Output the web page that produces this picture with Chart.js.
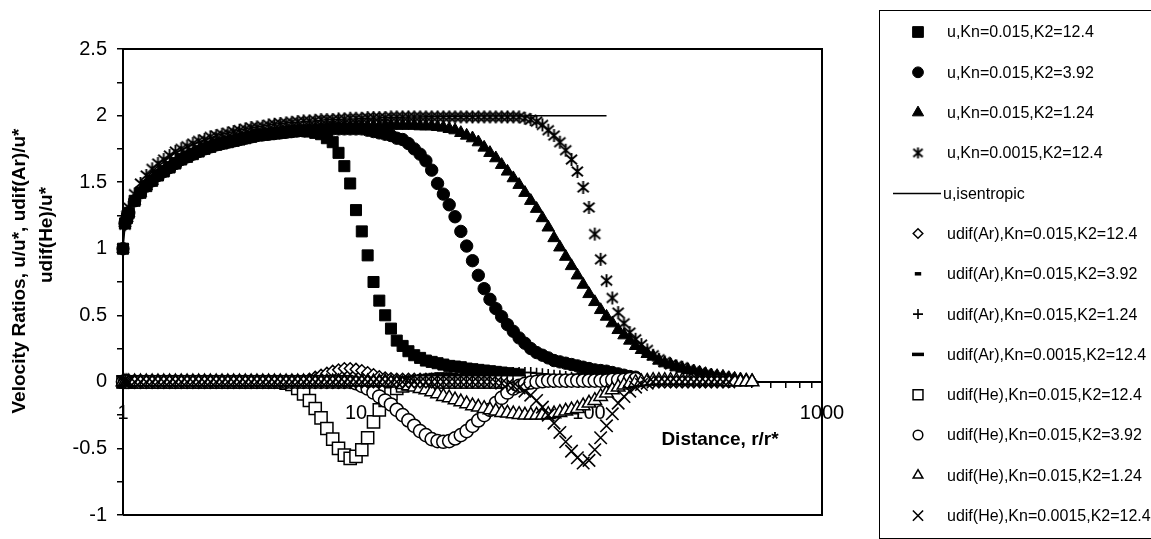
<!DOCTYPE html>
<html>
<head>
<meta charset="utf-8">
<script src="https://cdn.jsdelivr.net/npm/chart.js@4.4.1/dist/chart.umd.min.js"></script>
<style>
  html, body { margin: 0; padding: 0; background: #fff; }
  canvas { display: block; }
</style>
</head>
<body>
<canvas id="c" width="1151" height="539"></canvas>
<script>
// Radial distance r/r* for every sample (shared by all series)
const rGrid = [
  1, 1.02, 1.04, 1.059, 1.122, 1.189, 1.259, 1.334, 1.413, 1.496,
  1.585, 1.679, 1.778, 1.884, 1.995, 2.113, 2.239, 2.371, 2.512, 2.661,
  2.818, 2.985, 3.162, 3.35, 3.548, 3.758, 3.981, 4.217, 4.467, 4.732,
  5.012, 5.309, 5.623, 5.957, 6.31, 6.683, 7.079, 7.499, 7.943, 8.414,
  8.913, 9.441, 10, 10.59, 11.22, 11.89, 12.59, 13.34, 14.13, 14.96,
  15.85, 16.79, 17.78, 18.84, 19.95, 21.13, 22.39, 23.71, 25.12, 26.61,
  28.18, 29.85, 31.62, 33.5, 35.48, 37.58, 39.81, 42.17, 44.67, 47.32,
  50.12, 53.09, 56.23, 59.57, 63.1, 66.83, 70.79, 74.99, 79.43, 84.14,
  89.13, 94.41, 100, 105.9, 112.2, 118.9, 125.9, 133.4, 141.3, 149.6,
  158.5, 167.9, 177.8, 188.4, 199.5, 211.3, 223.9, 237.1, 251.2, 266.1,
  281.8, 298.5, 316.2, 335, 354.8, 375.8, 398.1, 421.7, 446.7, 473.2,
  501.2
];

// u/u*, Kn=0.015, K2=12.4
const uKn015K124 = [
  1.00, 1.19, 1.23, 1.27, 1.36, 1.42, 1.47, 1.51, 1.55, 1.58,
  1.61, 1.64, 1.67, 1.69, 1.71, 1.73, 1.75, 1.765, 1.78, 1.79,
  1.80, 1.81, 1.82, 1.83, 1.84, 1.85, 1.855, 1.86, 1.865, 1.87,
  1.875, 1.88, 1.885, 1.885, 1.88, 1.87, 1.86, 1.83, 1.80, 1.72,
  1.62, 1.49, 1.29, 1.13, 0.95, 0.75, 0.61, 0.50, 0.40, 0.31,
  0.27, 0.23, 0.20, 0.18, 0.16, 0.15, 0.14, 0.13, 0.12, 0.115,
  0.11, 0.10, 0.095, 0.09, 0.085, 0.08, 0.075, 0.07, 0.065, 0.06,
  0.055
];
// u/u*, Kn=0.015, K2=3.92
const uKn015K392 = [
  1.00, 1.19, 1.23, 1.27, 1.36, 1.42, 1.47, 1.51, 1.55, 1.58,
  1.61, 1.64, 1.67, 1.69, 1.71, 1.73, 1.75, 1.765, 1.78, 1.79,
  1.80, 1.81, 1.82, 1.83, 1.84, 1.85, 1.855, 1.86, 1.865, 1.87,
  1.875, 1.88, 1.885, 1.885, 1.89, 1.89, 1.895, 1.90, 1.90, 1.90,
  1.90, 1.90, 1.90, 1.90, 1.89, 1.88, 1.87, 1.86, 1.85, 1.83,
  1.82, 1.79, 1.75, 1.71, 1.66, 1.59, 1.49, 1.41, 1.33, 1.24,
  1.13, 1.02, 0.91, 0.80, 0.70, 0.62, 0.55, 0.49, 0.43, 0.38,
  0.33, 0.29, 0.25, 0.22, 0.20, 0.18, 0.16, 0.15, 0.14, 0.13,
  0.12, 0.11, 0.10, 0.09, 0.085, 0.08, 0.07, 0.06, 0.05, 0.04,
  0.035
];
// u/u*, Kn=0.015, K2=1.24
const uKn015K124b = [
  1.00, 1.19, 1.23, 1.27, 1.36, 1.42, 1.47, 1.51, 1.55, 1.58,
  1.61, 1.64, 1.67, 1.69, 1.71, 1.73, 1.75, 1.765, 1.78, 1.79,
  1.80, 1.81, 1.82, 1.83, 1.84, 1.85, 1.855, 1.86, 1.865, 1.87,
  1.875, 1.88, 1.885, 1.885, 1.89, 1.895, 1.90, 1.905, 1.91, 1.91,
  1.915, 1.915, 1.92, 1.92, 1.92, 1.92, 1.92, 1.925, 1.925, 1.925,
  1.925, 1.925, 1.925, 1.92, 1.92, 1.92, 1.915, 1.91, 1.90, 1.89,
  1.87, 1.85, 1.83, 1.80, 1.76, 1.72, 1.68, 1.63, 1.58, 1.53,
  1.48, 1.42, 1.36, 1.30, 1.23, 1.16, 1.08, 1.01, 0.94, 0.87,
  0.80, 0.73, 0.66, 0.60, 0.54, 0.49, 0.44, 0.39, 0.35, 0.31,
  0.27, 0.24, 0.21, 0.19, 0.16, 0.14, 0.13, 0.11, 0.10, 0.09,
  0.08, 0.07, 0.06, 0.05, 0.045, 0.04, 0.03, 0.025, 0.02, 0.015,
  0.01
];
// u/u*, Kn=0.0015, K2=12.4
const uKn0015K124 = [
  1.00, 1.18, 1.25, 1.31, 1.41, 1.49, 1.55, 1.60, 1.64, 1.67,
  1.70, 1.73, 1.75, 1.77, 1.79, 1.81, 1.82, 1.84, 1.85, 1.86,
  1.87, 1.88, 1.89, 1.90, 1.91, 1.915, 1.92, 1.93, 1.935, 1.94,
  1.945, 1.95, 1.955, 1.96, 1.96, 1.965, 1.97, 1.97, 1.97, 1.975,
  1.975, 1.98, 1.98, 1.98, 1.985, 1.985, 1.985, 1.985, 1.99, 1.99,
  1.99, 1.99, 1.99, 1.99, 1.99, 1.99, 1.99, 1.99, 1.99, 1.99,
  1.99, 1.99, 1.99, 1.99, 1.99, 1.99, 1.99, 1.99, 1.99, 1.99,
  1.99, 1.98, 1.97, 1.955, 1.93, 1.89, 1.85, 1.80, 1.74, 1.67,
  1.58, 1.46, 1.31, 1.11, 0.92, 0.76, 0.63, 0.52, 0.44, 0.37,
  0.32, 0.28, 0.24, 0.20, 0.17, 0.15, 0.13, 0.12, 0.11, 0.09,
  0.08, 0.07, 0.06, 0.05, 0.04, 0.035, 0.03
];
// u/u*, isentropic expansion
const uIsentropic = [
  1.00, 1.17, 1.235, 1.28, 1.39, 1.47, 1.53, 1.58, 1.62, 1.65,
  1.69, 1.72, 1.74, 1.765, 1.785, 1.80, 1.82, 1.83, 1.85, 1.86,
  1.87, 1.88, 1.89, 1.90, 1.91, 1.915, 1.92, 1.93, 1.935, 1.94,
  1.945, 1.95, 1.95, 1.955, 1.96, 1.96, 1.965, 1.97, 1.97, 1.97,
  1.975, 1.975, 1.977, 1.98, 1.98, 1.982, 1.983, 1.985, 1.986, 1.987,
  1.988, 1.989, 1.99, 1.99, 1.991, 1.992, 1.993, 1.993, 1.994, 1.994,
  1.995, 1.995, 1.995, 1.996, 1.996, 1.996, 1.996, 1.997, 1.997, 1.997,
  1.997, 1.997, 1.998, 1.998, 1.998, 1.998, 1.998, 1.998, 1.998, 1.999,
  1.999, 1.999, 1.999, 1.999, 1.999, 1.999
];
// udif(Ar)/u*, Kn=0.015, K2=12.4
const arKn015K124 = [
  0, 0, 0, 0, 0, 0, 0, 0, 0, 0,
  0, 0, 0, 0, 0, 0, 0, 0, 0, 0,
  0, 0, 0, 0, 0, 0, 0, 0, 0, 0,
  0, 0, 0.005, 0.01, 0.02, 0.035, 0.05, 0.065, 0.08, 0.09,
  0.10, 0.10, 0.095, 0.085, 0.07, 0.055, 0.04, 0.03, 0.025, 0.02,
  0.02, 0.02, 0.02, 0.02, 0.02, 0.02, 0.02, 0.02, 0.02, 0.02,
  0.02, 0.02, 0.02, 0.02, 0.02, 0.015, 0.015, 0.015, 0.015, 0.015,
  0.015
];
// udif(Ar)/u*, Kn=0.015, K2=3.92
const arKn015K392 = [
  0, 0, 0, 0, 0, 0, 0, 0, 0, 0,
  0, 0, 0, 0, 0, 0, 0, 0, 0, 0,
  0, 0, 0, 0, 0, 0, 0, 0, 0, 0,
  0, 0, 0, 0, 0, 0, 0, 0, 0, 0,
  0, 0, 0, 0, 0, 0, 0.005, 0.01, 0.015, 0.02,
  0.03, 0.035, 0.04, 0.045, 0.05, 0.055, 0.06, 0.06, 0.06, 0.055,
  0.05, 0.045, 0.04, 0.035, 0.03, 0.025, 0.02, 0.02, 0.015, 0.015,
  0.01, 0.01, 0.01, 0.01, 0.01, 0.01, 0.01, 0.01, 0.01, 0.01,
  0.01, 0.005, 0.005, 0.005, 0.005, 0.005, 0.005, 0.005, 0.005, 0.005,
  0.005
];
// udif(Ar)/u*, Kn=0.015, K2=1.24
const arKn015K124b = [
  0, 0, 0, 0, 0, 0, 0, 0, 0, 0,
  0, 0, 0, 0, 0, 0, 0, 0, 0, 0,
  0, 0, 0, 0, 0, 0, 0, 0, 0, 0,
  0, 0, 0, 0, 0, 0, 0, 0, 0, 0,
  0, 0, 0, 0, 0, 0, 0, 0, 0, 0,
  0, 0, 0, 0, 0, 0, 0, 0, 0.005, 0.01,
  0.015, 0.02, 0.03, 0.035, 0.04, 0.05, 0.055, 0.06, 0.065, 0.07,
  0.07, 0.07, 0.07, 0.065, 0.06, 0.055, 0.05, 0.045, 0.04, 0.035,
  0.03, 0.025, 0.02, 0.02, 0.015, 0.015, 0.01, 0.01, 0.01, 0.01,
  0.01, 0.01, 0.01, 0.01, 0.01, 0.01, 0.005, 0.005, 0.005, 0.005,
  0.005, 0.005, 0.005, 0.005, 0.005, 0.005, 0.005, 0.005, 0.005, 0.005,
  0.005
];
// udif(Ar)/u*, Kn=0.0015, K2=12.4
const arKn0015K124 = [
  0, 0, 0, 0, 0, 0, 0, 0, 0, 0,
  0, 0, 0, 0, 0, 0, 0, 0, 0, 0,
  0, 0, 0, 0, 0, 0, 0, 0, 0, 0,
  0, 0, 0, 0, 0, 0, 0, 0, 0, 0,
  0, 0, 0, 0, 0, 0, 0, 0, 0, 0,
  0, 0, 0, 0, 0, 0, 0, 0, 0, 0,
  0, 0, 0, 0, 0, 0, 0, 0, 0, 0,
  0, 0, 0, 0, 0.005, 0.01, 0.015, 0.02, 0.03, 0.04,
  0.05, 0.06, 0.065, 0.07, 0.07, 0.065, 0.06, 0.05, 0.04, 0.03,
  0.025, 0.02, 0.015, 0.01, 0.01, 0.01, 0.01, 0.01, 0.005, 0.005,
  0.005, 0.005, 0.005, 0.005, 0.005, 0.005, 0.005
];
// udif(He)/u*, Kn=0.015, K2=12.4
const heKn015K124 = [
  0, 0, 0, 0, 0, 0, 0, 0, 0, 0,
  0, 0, 0, 0, 0, 0, 0, 0, 0, 0,
  0, 0, 0, 0, 0, 0, 0, 0, 0, 0,
  -0.01, -0.02, -0.05, -0.09, -0.14, -0.20, -0.27, -0.35, -0.43, -0.50,
  -0.55, -0.575, -0.56, -0.51, -0.42, -0.30, -0.21, -0.14, -0.09, -0.05,
  -0.03, -0.015, -0.01, 0, 0, 0, 0, 0, 0, 0,
  0, 0, 0, 0, 0, 0, 0, 0, 0, 0,
  0
];
// udif(He)/u*, Kn=0.015, K2=3.92
const heKn015K392 = [
  0, 0, 0, 0, 0, 0, 0, 0, 0, 0,
  0, 0, 0, 0, 0, 0, 0, 0, 0, 0,
  0, 0, 0, 0, 0, 0, 0, 0, 0, 0,
  0, 0, 0, 0, 0, 0, 0, 0, 0, 0,
  0, 0, -0.01, -0.03, -0.05, -0.08, -0.11, -0.14, -0.17, -0.21,
  -0.25, -0.29, -0.33, -0.37, -0.40, -0.43, -0.445, -0.45, -0.445, -0.425,
  -0.40, -0.37, -0.33, -0.29, -0.25, -0.21, -0.16, -0.12, -0.08, -0.05,
  -0.03, -0.015, -0.005, 0, 0.005, 0.01, 0.01, 0.01, 0.01, 0.01,
  0.01, 0.01, 0.01, 0.01, 0.01, 0.01, 0.015, 0.015, 0.015, 0.02,
  0.02
];
// udif(He)/u*, Kn=0.015, K2=1.24
const heKn015K124b = [
  0, 0, 0, 0, 0, 0, 0, 0, 0, 0,
  0, 0, 0, 0, 0, 0, 0, 0, 0, 0,
  0, 0, 0, 0, 0, 0, 0, 0, 0, 0,
  0, 0, 0, 0, 0, 0, 0, 0, 0, 0,
  0, 0, 0, 0, 0, 0, 0, 0, -0.005, -0.01,
  -0.02, -0.03, -0.04, -0.05, -0.06, -0.075, -0.09, -0.11, -0.12, -0.135,
  -0.15, -0.165, -0.18, -0.19, -0.20, -0.21, -0.22, -0.23, -0.235, -0.24,
  -0.245, -0.25, -0.25, -0.25, -0.25, -0.245, -0.24, -0.23, -0.22, -0.21,
  -0.20, -0.18, -0.16, -0.14, -0.11, -0.085, -0.06, -0.04, -0.025, -0.015,
  -0.005, 0, 0.005, 0.01, 0.01, 0.01, 0.01, 0.01, 0.01, 0.01,
  0.01, 0.005, 0.005, 0.005, 0.005, 0.005, 0, 0, 0, 0,
  0
];
// udif(He)/u*, Kn=0.0015, K2=12.4
const heKn0015K124 = [
  0, 0, 0, 0, 0, 0, 0, 0, 0, 0,
  0, 0, 0, 0, 0, 0, 0, 0, 0, 0,
  0, 0, 0, 0, 0, 0, 0, 0, 0, 0,
  0, 0, 0, 0, 0, 0, 0, 0, 0, 0,
  0, 0, 0, 0, 0, 0, 0, 0, 0, 0,
  0, 0, 0, 0, 0, 0, 0, 0, 0, 0,
  0, 0, 0, 0, 0, 0, -0.005, -0.01, -0.02, -0.03,
  -0.045, -0.07, -0.10, -0.14, -0.19, -0.25, -0.31, -0.38, -0.45, -0.52,
  -0.57, -0.61, -0.59, -0.51, -0.42, -0.33, -0.24, -0.16, -0.11, -0.07,
  -0.04, -0.02, -0.01, 0, 0, 0, 0, 0, 0, 0,
  0, 0, 0, 0, 0, 0, 0
];

const legendLabels = [
  'u,Kn=0.015,K2=12.4', 'u,Kn=0.015,K2=3.92', 'u,Kn=0.015,K2=1.24', 'u,Kn=0.0015,K2=12.4',
  'u,isentropic',
  'udif(Ar),Kn=0.015,K2=12.4', 'udif(Ar),Kn=0.015,K2=3.92', 'udif(Ar),Kn=0.015,K2=1.24', 'udif(Ar),Kn=0.0015,K2=12.4',
  'udif(He),Kn=0.015,K2=12.4', 'udif(He),Kn=0.015,K2=3.92', 'udif(He),Kn=0.015,K2=1.24', 'udif(He),Kn=0.0015,K2=12.4'
];
const xTickValues = [1, 2, 3, 4, 5, 6, 7, 8, 9, 10, 20, 30, 40, 50, 60, 70, 80, 90,
  100, 200, 300, 400, 500, 600, 700, 800, 900, 1000];
const xTickLabels = { 1: '1', 10: '10', 100: '100', 1000: '1000' };
const yTitleLines = ['Velocity Ratios, u/u*, udif(Ar)/u*', 'udif(He)/u*'];
const xTitle = 'Distance, r/r*';

const FONT = "'Liberation Sans', Arial, Helvetica, sans-serif";

// Six-armed asterisk marker
function asteriskMarker(size, lw) {
  const c = document.createElement('canvas');
  c.width = size; c.height = size;
  const g = c.getContext('2d');
  const m = size / 2, a = size / 2 - 1;
  g.strokeStyle = '#000';
  g.lineWidth = lw;
  g.lineCap = 'butt';
  g.beginPath();
  g.moveTo(m, m - a); g.lineTo(m, m + a);
  g.moveTo(m - a * 0.85, m - a * 0.72); g.lineTo(m + a * 0.85, m + a * 0.72);
  g.moveTo(m + a * 0.85, m - a * 0.72); g.lineTo(m - a * 0.85, m + a * 0.72);
  g.stroke();
  return c;
}
const astPlot = asteriskMarker(15, 1.9);
const astLegend = asteriskMarker(13, 1.9);

const pts = vals => vals.map((v, i) => ({ x: rGrid[i], y: v }));

const filled = (style, r) => ({ pointStyle: style, pointRadius: r, backgroundColor: '#000', borderColor: '#000', borderWidth: 1 });
const hollow = (style, r, bw) => ({ pointStyle: style, pointRadius: r, backgroundColor: '#fff', borderColor: '#000', borderWidth: bw });

const seriesDefs = [
  { data: uKn015K124, st: filled('rect', 7.8), leg: 7.6 },
  { data: uKn015K392, st: filled('circle', 6.2), leg: 5.4 },
  { data: uKn015K124b, st: filled('triangle', 7.2), leg: 6.5 },
  { data: uKn0015K124, st: { pointStyle: astPlot, pointRadius: 7, backgroundColor: '#000', borderColor: '#000', borderWidth: 1 }, leg: 7, img: astLegend },
  { data: uIsentropic, st: { pointRadius: 0, showLine: true, borderColor: '#000', borderWidth: 1.5, backgroundColor: '#000' }, line: true },
  { data: arKn015K124, st: hollow('rectRot', 5.8, 1.5), leg: 4.8 },
  { data: arKn015K392, st: { pointStyle: 'line', pointRadius: 3.2, borderColor: '#000', backgroundColor: '#000', borderWidth: 3.5 }, leg: 3.2 },
  { data: arKn015K124b, st: { pointStyle: 'cross', pointRadius: 5.5, borderColor: '#000', backgroundColor: '#000', borderWidth: 1.6 }, leg: 5 },
  { data: arKn0015K124, st: { pointStyle: 'line', pointRadius: 6, borderColor: '#000', backgroundColor: '#000', borderWidth: 3.5 }, leg: 6 },
  { data: heKn015K124, st: hollow('rect', 8.6, 1.5), leg: 7 },
  { data: heKn015K392, st: hollow('circle', 6.6, 1.5), leg: 4.8 },
  { data: heKn015K124b, st: hollow('triangle', 7.8, 1.5), leg: 5.6 },
  { data: heKn0015K124, st: { pointStyle: 'crossRot', pointRadius: 8.8, borderColor: '#000', backgroundColor: '#000', borderWidth: 1.6 }, leg: 7.2 }
];

const N = seriesDefs.length;
const datasets = seriesDefs.map((s, i) => Object.assign({
  label: legendLabels[i],
  data: pts(s.data),
  clip: false,
  order: N - i,
  showLine: false
}, s.st));

const decorPlugin = {
  id: 'decor',
  beforeDatasetsDraw(chart) {
    const { ctx, chartArea: a } = chart;
    ctx.save();
    ctx.strokeStyle = '#000';
    ctx.lineWidth = 2;
    ctx.beginPath();
    ctx.moveTo(a.left, a.top);
    ctx.lineTo(a.right, a.top);
    ctx.lineTo(a.right, a.bottom);
    ctx.lineTo(a.left, a.bottom);
    ctx.stroke();
    ctx.restore();
  },
  afterDraw(chart) {
    const ctx = chart.ctx;
    ctx.save();
    ctx.fillStyle = '#000';
    ctx.textBaseline = 'middle';
    ctx.textAlign = 'center';
    ctx.font = 'bold 19px ' + FONT;
    ctx.fillText(xTitle, 720, 440);

    ctx.save();
    ctx.translate(20, 271);
    ctx.rotate(-Math.PI / 2);
    ctx.fillText(yTitleLines[0], 0, 0);
    ctx.restore();
    ctx.save();
    ctx.translate(47, 235);
    ctx.rotate(-Math.PI / 2);
    ctx.fillText(yTitleLines[1], 0, 0);
    ctx.restore();

    // legend box
    ctx.strokeStyle = '#000';
    ctx.lineWidth = 1;
    ctx.strokeRect(879.5, 10.5, 300, 528);

    ctx.font = '16px ' + FONT;
    ctx.textAlign = 'left';
    seriesDefs.forEach((s, i) => {
      const y = 32 + i * 40.3;
      ctx.save();
      if (s.line) {
        ctx.strokeStyle = '#000';
        ctx.lineWidth = 1.5;
        ctx.beginPath();
        ctx.moveTo(893, Math.round(y) + 0.5);
        ctx.lineTo(941, Math.round(y) + 0.5);
        ctx.stroke();
        ctx.restore();
        ctx.fillText(legendLabels[i], 943, y + 1);
        return;
      }
      ctx.fillStyle = s.st.backgroundColor;
      ctx.strokeStyle = s.st.borderColor;
      ctx.lineWidth = s.st.borderWidth;
      const style = s.img || s.st.pointStyle;
      Chart.helpers.drawPoint(ctx, { pointStyle: style, radius: s.leg, borderWidth: s.st.borderWidth, rotation: 0 }, 918, y);
      ctx.restore();
      ctx.fillText(legendLabels[i], 947, y + 1);
    });
    ctx.restore();
  }
};

new Chart(document.getElementById('c'), {
  type: 'scatter',
  data: { datasets },
  options: {
    responsive: false,
    animation: false,
    devicePixelRatio: 1,
    events: [],
    layout: { padding: { left: 0, top: 49, right: 329, bottom: 24 } },
    plugins: { legend: { display: false }, tooltip: { enabled: false } },
    scales: {
      x: {
        type: 'logarithmic',
        min: 1,
        max: 1000,
        position: { y: 0 },
        afterBuildTicks: s => { s.ticks = xTickValues.map(v => ({ value: v })); },
        ticks: {
          autoSkip: false,
          maxRotation: 0,
          minRotation: 0,
          padding: 15,
          color: '#000',
          font: { family: FONT, size: 20 },
          callback: v => xTickLabels[v] || ''
        },
        grid: { drawOnChartArea: false, drawTicks: true, tickLength: 5, color: '#000', lineWidth: 1.5 },
        border: { display: true, color: '#000', width: 2 }
      },
      y: {
        type: 'linear',
        position: 'left',
        min: -1,
        max: 2.5,
        afterFit: s => { s.width = 123; },
        ticks: {
          stepSize: 0.25,
          padding: 10,
          color: '#000',
          font: { family: FONT, size: 20 },
          callback: v => {
            const r = Math.round(v * 100) / 100;
            return Math.abs(r * 2 - Math.round(r * 2)) < 1e-6 ? String(r) : '';
          }
        },
        grid: { drawOnChartArea: false, drawTicks: true, tickLength: 6, color: '#000', lineWidth: 1.5 },
        border: { display: true, color: '#000', width: 2 }
      }
    }
  },
  plugins: [decorPlugin]
});
</script>
</body>
</html>
